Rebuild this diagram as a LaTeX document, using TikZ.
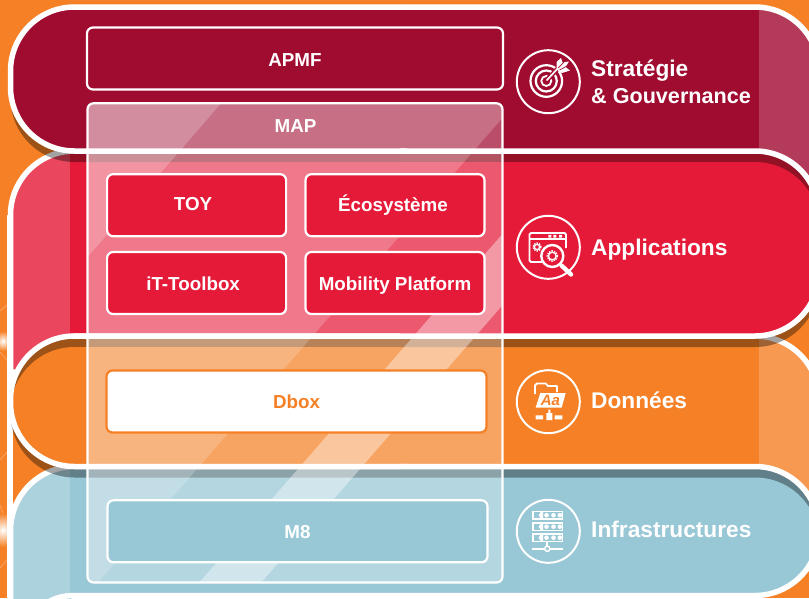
\documentclass[tikz,border=0pt]{standalone}
\usepackage{fontspec}
\setmainfont{Liberation Sans}
\definecolor{crim}{HTML}{A00B30}
\definecolor{redb}{HTML}{E51A38}
\definecolor{orb}{HTML}{F58025}
\definecolor{blb}{HTML}{98C7D6}
\newcommand\pStrat{(406,151) [rounded corners=64pt] -- (10.5,151) -- (10.5,7) -- (819,7) [sharp corners] -- (819,215) -- (406,215) -- cycle}
\newcommand\pApp{(74,372) -- (10.5,372) [rounded corners=64pt] -- (10.5,151) -- (819,151) -- (819,336) -- (420,336) [sharp corners] -- (74,336) -- cycle}
\newcommand\pData{(406,466.5) [rounded corners=64pt] -- (10.5,466.5) -- (10.5,336) -- (819,336) [sharp corners] -- (819,530) -- (406,530) -- cycle}
\newcommand\pInfra{(74,620) -- (10.5,620) [rounded corners=64pt] -- (10.5,466.5) -- (819,466.5) -- (819,595.5) -- (420,595.5) [sharp corners] -- (74,595.5) -- cycle}
\newcommand\bandstroke[1]{\draw[white,line width=5.5pt,line join=round] #1;}
\newcommand\castshadow[1]{\fill[black,opacity=.36,yshift=-11pt] #1;}
\newcommand\drawStrat{%
  \fill[crim] \pStrat;
  \begin{scope}\clip \pStrat; \fill[white,opacity=.2] (759,0) rectangle (830,300);\end{scope}
  \bandstroke{\pStrat}}
% the argument is the colour of the band's top rim: dark where no other band casts a shadow on it
\newcommand\drawApp[1]{%
  \fill[#1] \pApp;
  \begin{scope}\clip \pApp; \fill[redb,yshift=-11pt] \pApp; \fill[white,opacity=.2] (0,100) rectangle (70,400);\end{scope}
  \bandstroke{\pApp}}
\newcommand\drawData[1]{%
  \fill[#1] \pData;
  \begin{scope}\clip \pData; \fill[orb,yshift=-11pt] \pData; \fill[white,opacity=.2] (759,300) rectangle (830,600);\end{scope}
  \bandstroke{\pData}}
\newcommand\drawInfra[1]{%
  \fill[#1] \pInfra;
  \begin{scope}\clip \pInfra; \fill[blb,yshift=-11pt] \pInfra; \fill[white,opacity=.2] (0,440) rectangle (70,640);\end{scope}
  \bandstroke{\pInfra}}
\newcommand\gearicon[3]{%
  \draw[white,line width=1.3pt] (#1,#2) circle (#3);
  \draw[white,line width=1.5pt,dash pattern=on 1.4pt off 1.1pt] (#1,#2) circle (#3+1.3);}
\newcommand\rack[1]{%
  \draw[white,line width=1.5pt] (533,#1+.7) rectangle (562.5,#1+7.8);
  \fill[white] (541,#1+.7) -- (538.6,#1+4.2) -- (541,#1+7.8) -- (543,#1+7.8) -- (543,#1+.7) -- cycle;
  \foreach \dotx in {546.5,553.5,559.8}{\fill[white] (\dotx,#1+4.2) circle (2.3);}}
\tikzset{
  x=1pt,y=-1pt,
  box/.style={draw=white,line width=2.2pt,rounded corners=6pt,inner sep=0pt,text=white,
    font=\fontsize{18.8}{22}\bfseries\selectfont,text height=13.5pt,text depth=0pt,align=center},
  redbox/.style={box,fill=redb,minimum width=179pt,minimum height=62pt},
  ring/.style={circle,draw=white,line width=2pt,minimum size=63pt,inner sep=0pt},
  side/.style={anchor=west,inner sep=0pt,text=white,font=\fontsize{22.7}{27}\bfseries\selectfont,align=left},
}
\begin{document}
\begin{tikzpicture}
\useasboundingbox (0,0) rectangle (809,598);
\clip (0,0) rectangle (809,598);
\fill[orb] (0,0) rectangle (809,598);
% faint network at the far left
\draw[white,opacity=.25,line width=1pt] (0,311) -- (7,305) (0,352) -- (7,360) (0,460) -- (7,452) (0,505) -- (7,524) (0,568) -- (7,560);
\shade[inner color=white,outer color=orb] (3,341) circle (10);
\shade[inner color=white,outer color=orb] (3,530) circle (17);
\draw[white,line width=5.2pt] (10,215) -- (10,598);
% bands: left part
\begin{scope}
  \clip (0,0) rectangle (400,598);
  \drawApp{redb}
  \castshadow{\pStrat}
  \drawStrat
  \drawInfra{blb}
  \castshadow{\pData}
  \drawData{orb!64!black}
\end{scope}
% bands: right part
\begin{scope}
  \clip (400,0) rectangle (809,598);
  \drawStrat
  \drawData{orb}
  \castshadow{\pApp}
  \drawApp{redb!64!black}
  \drawInfra{blb!64!black}
\end{scope}
\coordinate (nextA) at (74,595.5);
\coordinate (nextB) at (40,608);
\draw[white,line width=5.5pt] (nextA) .. controls (62,595.5) and (50,599) .. (nextB);
% glass panel of MAP
\begin{scope}
  \clip[rounded corners=6pt] (87.5,103.3) rectangle (502.5,582.5);
  \fill[white,opacity=.28] (80,100) rectangle (510,590);
  \fill[white,opacity=.194] (0,103) -- (515.4,103) -- (97.8,583) -- (0,583) -- cycle;
  \fill[white,opacity=.207] (0,103) -- (221.4,103) -- (0,358) -- cycle;
  \fill[white,opacity=.39] (616.4,103) -- (678.4,103) -- (260.8,583) -- (198.8,583) -- cycle;
\end{scope}
\node[box,minimum width=415pt,minimum height=479.2pt] (map) at (295,342.9) {};
\node[box,draw=none] (maptitle) at (295.5,126) {MAP};
\node[box,minimum width=416pt,minimum height=62pt] (apmf) at (295,58.5) {\raisebox{-1.5pt}{APMF}};
\node[redbox] (toy) at (196.6,205.2) {\hspace*{-7pt}\raisebox{1pt}{TOY}};
\node[redbox] (eco) at (395,205.2) {\hspace*{-4pt}Écosystème};
\node[redbox] (itt) at (196.6,283) {\hspace*{-7pt}\raisebox{-1pt}{iT-Toolbox}};
\node[redbox] (mob) at (395,283) {\raisebox{-1pt}{Mobility Platform}};
\node[box,draw=orb,fill=white,text=orb,minimum width=380pt,minimum height=62pt] (dbox) at (296.5,401.5) {Dbox};
\node[box,fill=blb,minimum width=380pt,minimum height=62pt] (meight) at (297.5,531.3) {M8};
% side labels
\node[side] (lstrat) at (591,81.5) {Stratégie\\{\fontsize{21.6}{27}\bfseries\selectfont\& Gouvernance}};
\node[side] (lapp) at (591,250) {Applications};
\node[side] (ldata) at (591,400) {Données};
\node[side] (linfra) at (591,529) {Infrastructures};
% icon rings
\node[ring] (istrat) at (548.3,81.7) {};
\node[ring] (iapp) at (548.3,247.3) {};
\node[ring] (idata) at (548.3,401.7) {};
\node[ring] (iinfra) at (548.3,531.3) {};
% target icon
\draw[white,line width=2.2pt] (546.3,81) circle (15.8) (546.3,81) circle (10.5);
\draw[white,line width=1.8pt] (546.3,81) circle (5);
\draw[crim,line width=4.5pt] (547,80) -- (563,63);
\draw[white,line width=1.7pt] (546.5,80.5) -- (560,66);
\fill[white] (556.5,69.5) -- (556.5,62) -- (561,58) -- (562.5,62.5) -- (569,61.5) -- (565.5,67) -- (570,70.5) -- (562,73) -- cycle;
\draw[crim,line width=.7pt] (558,68) -- (566,60) (559.5,70) -- (567,66);
% application icon
\draw[white,line width=1.9pt,rounded corners=1.5pt] (556,262) -- (529.5,262) -- (529.5,233) -- (566,233) -- (566,248);
\draw[white,line width=1.5pt] (529.5,239) -- (566,239);
\fill[white] (548.3,234.8) rectangle (551.3,237.5) (553.3,234.8) rectangle (556.3,237.5) (559,234.8) rectangle (562,237.5);
\gearicon{537}{247}{2.6}
\draw[white,line width=4.4pt,line cap=round] (561.5,265.5) -- (571,274.5);
\fill[redb] (552.3,256) circle (11);
\draw[white,line width=2.4pt] (552.3,256) circle (11);
\gearicon{552.3}{256}{3.8}
% data icon
\draw[white,line width=1.8pt,line join=round] (535,394) -- (535,385.5) -- (537,383.5) -- (545.7,383.5) -- (548,386) -- (557,386) -- (557,392);
\fill[white] (540.3,393) -- (565.7,393) -- (561.7,407.5) -- (535.7,407.5) -- cycle;
\node[inner sep=0pt,text=orb,font=\fontsize{15}{15}\bfseries\itshape\selectfont] (aa) at (550.5,400.3) {Aa};
\fill[white] (546.3,413) rectangle (552.3,420) (548.3,409.5) rectangle (550.3,413) (535.7,415.3) rectangle (543,419.3) (554.7,415.3) rectangle (562.3,419.3);
% infrastructure icon
\rack{511}
\rack{522.5}
\rack{533.5}
\draw[white,line width=1.8pt] (532,548.7) -- (563,548.7) (547.3,541.5) -- (547.3,546);
\fill[blb] (547.3,548.7) circle (2.6);
\draw[white,line width=1.5pt] (547.3,548.7) circle (2.6);
\end{tikzpicture}
\end{document}
